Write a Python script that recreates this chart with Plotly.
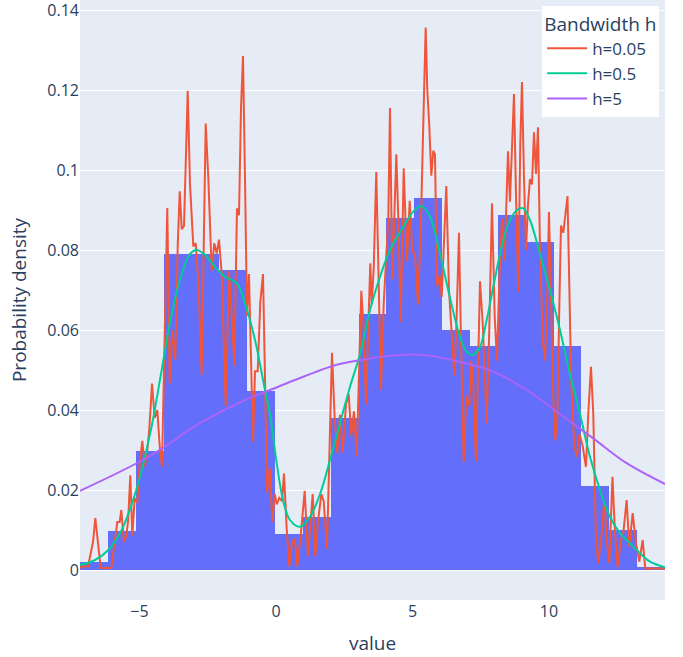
import plotly.graph_objects as go

# Histogram (probability density), 21 equal bins
bin_start = -7.18
bin_width = 1.0205
hist_density = [0.002, 0.0098, 0.0298, 0.079, 0.079, 0.075, 0.0447, 0.009, 0.0132, 0.038,
                0.064, 0.088, 0.093, 0.060, 0.056, 0.0888, 0.082, 0.056, 0.021, 0.010, 0.0008]

# KDE h=0.05
x_h005 = [-7.18, -7.15, -6.886, -6.703, -6.619, -6.52, -6.421, -6.033, -5.908, -5.813, -5.725, -5.667,
          -5.568, -5.484, -5.421, -5.337, -5.264, -5.176, -5.081, -4.993, -4.897, -4.81, -4.725, -4.641,
          -4.542, -4.443, -4.348, -4.26, -4.176, -4.077, -3.982, -3.894, -3.799, -3.689, -3.601, -3.527,
          -3.454, -3.37, -3.297, -3.234, -3.15, -3.029, -2.941, -2.846, -2.722, -2.575, -2.48, -2.355,
          -2.26, -2.172, -2.088, -1.989, -1.842, -1.722, -1.623, -1.527, -1.429, -1.355, -1.282, -1.209,
          -1.136, -1.062, -0.989, -0.916, -0.842, -0.769, -0.67, -0.575, -0.476, -0.403, -0.33, -0.231,
          -0.136, -0.048, 0.026, 0.121, 0.22, 0.293, 0.392, 0.487, 0.586, 0.685, 0.78, 0.905, 1.051,
          1.172, 1.271, 1.344, 1.44, 1.538, 1.659, 1.747, 1.868, 1.952, 2.051, 2.15, 2.245, 2.344, 2.443,
          2.564, 2.663, 2.758, 2.857, 2.956, 3.051, 3.125, 3.212, 3.297, 3.396, 3.454, 3.505, 3.579,
          3.674, 3.747, 3.846, 3.945, 4.04, 4.114, 4.176, 4.26, 4.333, 4.407, 4.48, 4.568, 4.678, 4.799,
          4.897, 4.993, 5.092, 5.201, 5.3, 5.359, 5.432, 5.484, 5.542, 5.615, 5.689, 5.762, 5.824, 5.897,
          5.996, 6.07, 6.154, 6.238, 6.337, 6.436, 6.531, 6.604, 6.703, 6.777, 6.875, 6.971, 7.081,
          7.154, 7.227, 7.326, 7.399, 7.473, 7.571, 7.645, 7.718, 7.813, 7.912, 8.011, 8.095, 8.179,
          8.278, 8.377, 8.425, 8.498, 8.571, 8.645, 8.718, 8.791, 8.875, 8.949, 9.011, 9.084, 9.158,
          9.231, 9.304, 9.377, 9.451, 9.524, 9.597, 9.67, 9.769, 9.853, 9.927, 10.0, 10.073, 10.158,
          10.231, 10.304, 10.377, 10.44, 10.524, 10.623, 10.678, 10.817, 10.927, 11.026, 11.117, 11.234,
          11.355, 11.44, 11.538, 11.623, 11.722, 11.806, 11.93, 12.026, 12.114, 12.209, 12.326, 12.418,
          12.516, 12.637, 12.722, 12.846, 12.941, 13.066, 13.187, 13.308, 13.432, 13.527, 14.249]
y_h005 = [0.0004, 0.0009, 0.0009, 0.007, 0.013, 0.006, 0.0005, 0.0005, 0.0078, 0.012, 0.012, 0.015,
          0.007, 0.0086, 0.012, 0.0237, 0.0086, 0.018, 0.0168, 0.0267, 0.0323, 0.0259, 0.0293, 0.0353,
          0.0466, 0.038, 0.040, 0.031, 0.0259, 0.0595, 0.0905, 0.0466, 0.060, 0.0526, 0.0809, 0.0947,
          0.0852, 0.086, 0.1068, 0.1198, 0.0964, 0.0809, 0.0817, 0.0722, 0.0488, 0.1116, 0.0982, 0.0748,
          0.0817, 0.0791, 0.0826, 0.074, 0.041, 0.0748, 0.0635, 0.051, 0.0904, 0.0887, 0.1155, 0.1285,
          0.0982, 0.0635, 0.074, 0.0549, 0.032, 0.0497, 0.0497, 0.067, 0.074, 0.048, 0.0194, 0.0255,
          0.012, 0.019, 0.0164, 0.018, 0.0172, 0.0241, 0.0103, 0.0009, 0.0069, 0.0078, 0.0009, 0.0086,
          0.0198, 0.0034, 0.012, 0.019, 0.0034, 0.012, 0.019, 0.0172, 0.0052, 0.0293, 0.0543, 0.0379,
          0.0293, 0.0388, 0.0293, 0.0414, 0.044, 0.0336, 0.0397, 0.0284, 0.0552, 0.0698, 0.0603, 0.0414,
          0.0638, 0.0767, 0.0664, 0.0754, 0.0995, 0.0754, 0.045, 0.0664, 0.0807, 0.0879, 0.1155, 0.0727,
          0.0879, 0.1039, 0.0879, 0.062, 0.1004, 0.0771, 0.0923, 0.0798, 0.0789, 0.0664, 0.0843, 0.1039,
          0.1218, 0.1356, 0.12, 0.1111, 0.0986, 0.1048, 0.1039, 0.0709, 0.0736, 0.0682, 0.0843, 0.096,
          0.07, 0.0584, 0.0486, 0.0602, 0.0843, 0.0575, 0.027, 0.0434, 0.041, 0.0523, 0.0462, 0.0272,
          0.0462, 0.0722, 0.0618, 0.048, 0.0367, 0.0601, 0.0917, 0.0635, 0.0523, 0.0722, 0.0878, 0.0774,
          0.0913, 0.1047, 0.0921, 0.1068, 0.119, 0.0939, 0.0696, 0.1068, 0.122, 0.0982, 0.08, 0.0913,
          0.0977, 0.0964, 0.1094, 0.099, 0.1107, 0.0809, 0.0575, 0.0523, 0.0653, 0.0895, 0.0687, 0.0428,
          0.0324, 0.0376, 0.0653, 0.0861, 0.0843, 0.0913, 0.0935, 0.0468, 0.031, 0.0283, 0.034, 0.031,
          0.0258, 0.039, 0.0508, 0.039, 0.0075, 0.0017, 0.0092, 0.0175, 0.0075, 0.0017, 0.0233, 0.0092,
          0.0008, 0.0075, 0.0092, 0.0175, 0.0058, 0.0142, 0.0067, 0.0021, 0.0075, 0.0004, 0.0004]

# KDE h=0.5
x_h05 = [-7.18, -6.63, -6.143, -5.652, -5.165, -4.919, -4.553, -4.187, -3.821, -3.454, -3.15, -2.905,
         -2.601, -2.234, -1.868, -1.44, -1.136, -0.769, -0.403, -0.22, 0.026, 0.267, 0.513, 0.879, 1.245,
         1.612, 1.978, 2.344, 2.711, 3.077, 3.443, 3.81, 4.176, 4.663, 5.029, 5.337, 5.641, 6.007, 6.374,
         6.74, 6.985, 7.227, 7.473, 7.718, 7.96, 8.267, 8.571, 8.875, 9.059, 9.304, 9.67, 10.037, 10.403,
         10.769, 11.136, 11.502, 11.868, 12.234, 12.601, 12.967, 13.333, 13.7, 14.249]
y_h05 = [0.00125, 0.0025, 0.005, 0.01, 0.019, 0.025, 0.036, 0.05, 0.064, 0.074, 0.079, 0.080, 0.0788,
         0.0758, 0.0733, 0.0717, 0.0667, 0.0575, 0.045, 0.039, 0.0267, 0.0172, 0.0125, 0.0108, 0.0133,
         0.019, 0.0275, 0.0367, 0.0458, 0.054, 0.065, 0.0733, 0.08, 0.0858, 0.0896, 0.091, 0.0883, 0.079,
         0.068, 0.0583, 0.0546, 0.0538, 0.0558, 0.0625, 0.0708, 0.0808, 0.0875, 0.0902, 0.0904, 0.0875,
         0.079, 0.07, 0.06, 0.049, 0.039, 0.0283, 0.02, 0.0133, 0.0092, 0.0067, 0.0042, 0.0021, 0.0007]

# KDE h=5
x_h5 = [-7.18, -4.615, -2.784, -1.136, -0.22, 1.0, 2.223, 3.443, 4.663, 5.275, 5.886, 6.74, 7.96, 9.183,
        10.403, 11.623, 12.846, 14.249]
y_h5 = [0.0198, 0.0285, 0.0367, 0.0425, 0.045, 0.0483, 0.0513, 0.0529, 0.0538, 0.0538, 0.0533, 0.052,
        0.0496, 0.045, 0.039, 0.0329, 0.0267, 0.0215]

bin_centers = [bin_start + bin_width * (i + 0.5) for i in range(len(hist_density))]

fig = go.Figure()
fig.add_trace(go.Bar(x=bin_centers, y=hist_density, width=bin_width,
                     marker=dict(color="#636efa", line=dict(width=0)), showlegend=False))
fig.add_trace(go.Scatter(x=x_h005, y=y_h005, mode="lines", name="h=0.05",
                         line=dict(color="#EF553B", width=2)))
fig.add_trace(go.Scatter(x=x_h05, y=y_h05, mode="lines", name="h=0.5",
                         line=dict(color="#00cc96", width=2, shape="spline")))
fig.add_trace(go.Scatter(x=x_h5, y=y_h5, mode="lines", name="h=5",
                         line=dict(color="#ab63fa", width=2, shape="spline")))

fig.update_layout(
    template="plotly",
    width=683, height=657,
    margin=dict(l=80, r=18, t=0, b=57),
    bargap=0,
    font=dict(size=16),
    legend=dict(title=dict(text="Bandwidth h", font=dict(size=19)), x=0.99, y=0.99,
                xanchor="right", yanchor="top", bgcolor="white", font=dict(size=17),
                itemwidth=40),
    xaxis=dict(title=dict(text="value"), range=[-7.18, 14.25], showgrid=False, zeroline=False),
    yaxis=dict(title=dict(text="Probability density"), range=[-0.0075, 0.1425],
               ticklabeloverflow="allow"),
)

fig.write_html("out.html")
